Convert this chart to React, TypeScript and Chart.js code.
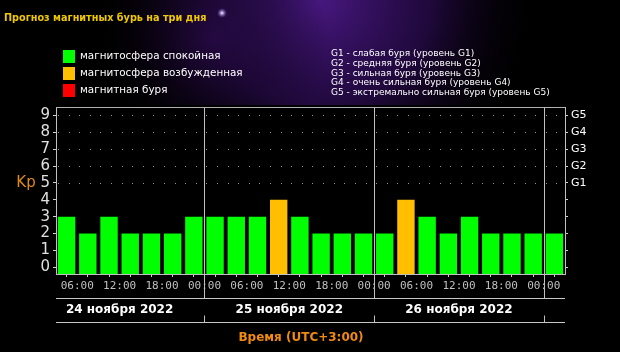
import React, { useEffect, useRef } from "react";
import { Chart, registerables } from "chart.js";

Chart.register(...registerables);

// ---- data ----
const titleText = "Прогноз магнитных бурь на три дня";
const intervalStartHours = [3, 6, 9, 12, 15, 18, 21, 24, 27, 30, 33, 36, 39, 42, 45, 48, 51, 54, 57, 60, 63, 66, 69, 72];
const kpValues = [3, 2, 3, 2, 2, 2, 3, 3, 3, 3, 4, 3, 2, 2, 2, 2, 4, 3, 2, 3, 2, 2, 2, 2];
const dayLabels = ["24 ноября 2022", "25 ноября 2022", "26 ноября 2022"];
const dayStartHours = [0, 24, 48];
const daySeparatorHours = [24, 48, 72];
const kpTicks = [0, 1, 2, 3, 4, 5, 6, 7, 8, 9];
const gLevelTicks = ["", "", "", "", "", "G1", "G2", "G3", "G4", "G5"];
const legendItems = ["магнитосфера спокойная", "магнитосфера возбужденная", "магнитная буря"];
const legendColors = ["#00ff00", "#ffbf00", "#ff0000"];
const gLegendLines = [
  "G1 - слабая буря (уровень G1)",
  "G2 - средняя буря (уровень G2)",
  "G3 - сильная буря (уровень G3)",
  "G4 - очень сильная буря (уровень G4)",
  "G5 - экстремально сильная буря (уровень G5)",
];
const xAxisTitle = "Время (UTC+3:00)";
const yAxisTitle = "Kp";

const X_MIN = 3;
const X_MAX = 75;
const Y_MIN = -0.4;
const Y_MAX = 9.5;

function kpColor(v: number) {
  if (v >= 5) return legendColors[2];
  if (v >= 4) return legendColors[1];
  return legendColors[0];
}

const FONT = "'DejaVu Sans', Verdana, sans-serif";

const decorPlugin = {
  id: "decor",
  beforeDraw(chart: any) {
    const { ctx, width, height } = chart;
    ctx.save();
    ctx.fillStyle = "#000";
    ctx.fillRect(0, 0, width, height);
    // purple nebula on top
    const g1 = ctx.createRadialGradient(320, 0, 0, 320, 0, 220);
    g1.addColorStop(0, "rgba(75,25,135,0.95)");
    g1.addColorStop(0.5, "rgba(45,12,85,0.7)");
    g1.addColorStop(1, "rgba(0,0,0,0)");
    ctx.fillStyle = g1;
    ctx.fillRect(0, 0, width, 105);
    const g2 = ctx.createRadialGradient(210, 40, 0, 210, 40, 120);
    g2.addColorStop(0, "rgba(40,10,70,0.6)");
    g2.addColorStop(1, "rgba(0,0,0,0)");
    ctx.fillStyle = g2;
    ctx.fillRect(0, 0, width, 105);
    // star
    const sg = ctx.createRadialGradient(222, 13, 0, 222, 13, 5);
    sg.addColorStop(0, "rgba(255,255,255,1)");
    sg.addColorStop(0.4, "rgba(200,180,255,0.6)");
    sg.addColorStop(1, "rgba(120,80,200,0)");
    ctx.fillStyle = sg;
    ctx.fillRect(215, 6, 14, 14);
    ctx.fillStyle = "#000";
    ctx.fillRect(chart.chartArea.left, chart.chartArea.top, chart.chartArea.right - chart.chartArea.left, chart.chartArea.bottom - chart.chartArea.top);

    // dotted grid at 5..9
    const xs = chart.scales.x;
    const ys = chart.scales.y;
    ctx.fillStyle = "rgba(200,200,200,0.75)";
    const step = (xs.getPixelForValue(X_MIN + 3) - xs.getPixelForValue(X_MIN)) / 2;
    for (let v = 5; v <= 9; v++) {
      const py = Math.round(ys.getPixelForValue(v));
      for (let px = chart.chartArea.left + 2; px < chart.chartArea.right - 1; px += step) {
        ctx.fillRect(Math.round(px), py, 1, 1);
      }
    }
    ctx.restore();
  },
  afterDraw(chart: any) {
    const { ctx, chartArea } = chart;
    const xs = chart.scales.x;
    const ys = chart.scales.y;
    ctx.save();
    // top border of plot
    ctx.strokeStyle = "#b0b0b0";
    ctx.lineWidth = 1;
    ctx.beginPath();
    ctx.moveTo(chartArea.left, chartArea.top + 0.5);
    ctx.lineTo(chartArea.right, chartArea.top + 0.5);
    ctx.stroke();

    const row1 = 298.5;
    const row2 = 322.5;
    // day separators
    ctx.strokeStyle = "#c0c0c0";
    daySeparatorHours.forEach((h) => {
      const px = Math.round(xs.getPixelForValue(h)) + 0.5;
      ctx.beginPath();
      ctx.moveTo(px, chartArea.top);
      ctx.lineTo(px, row1);
      ctx.moveTo(px, row2 - 7);
      ctx.lineTo(px, row2);
      ctx.stroke();
    });
    // horizontal lines of date band
    ctx.strokeStyle = "#c8c8c8";
    ctx.beginPath();
    ctx.moveTo(chartArea.left, row1);
    ctx.lineTo(chartArea.right, row1);
    ctx.moveTo(chartArea.left, row2);
    ctx.lineTo(chartArea.right, row2);
    ctx.stroke();

    // date labels
    ctx.fillStyle = "#ffffff";
    ctx.font = `bold 12px ${FONT}`;
    ctx.textAlign = "center";
    ctx.textBaseline = "middle";
    dayLabels.forEach((lab, i) => {
      ctx.fillText(lab, xs.getPixelForValue(dayStartHours[i] + 12), 310);
    });

    // x axis title
    ctx.fillStyle = "#f08a10";
    ctx.font = `bold 12px ${FONT}`;
    ctx.fillText(xAxisTitle, 301, 338);

    // Kp
    ctx.fillStyle = "#e08a10";
    ctx.font = `15px ${FONT}`;
    ctx.fillText(yAxisTitle, 26, ys.getPixelForValue(5));

    // title
    ctx.textAlign = "left";
    ctx.fillStyle = "#f0c800";
    ctx.font = `bold 9.7px ${FONT}`;
    ctx.fillText(titleText, 4, 18);

    // legend
    ctx.font = `10.4px ${FONT}`;
    legendItems.forEach((t, i) => {
      const cy = 56 + i * 17;
      ctx.fillStyle = legendColors[i];
      ctx.fillRect(63, cy - 6, 12, 13);
      ctx.fillStyle = "#ffffff";
      ctx.fillText(t, 80, cy);
    });

    // G legend
    ctx.font = `9px ${FONT}`;
    gLegendLines.forEach((t, i) => {
      ctx.fillStyle = "#ffffff";
      ctx.fillText(t, 331, 54 + i * 9.7);
    });
    ctx.restore();
  },
};

export default function App() {
  const ref = useRef<HTMLCanvasElement | null>(null);
  useEffect(() => {
    document.body.style.margin = "0";
    document.body.style.background = "#000";
    const canvas = ref.current!;
    const chart = new Chart(canvas, {
      type: "bar",
      data: {
        datasets: [
          {
            data: intervalStartHours.map((h, i) => ({ x: h + 1.5, y: kpValues[i] })),
            backgroundColor: kpValues.map(kpColor),
            base: Y_MIN,
            barPercentage: 0.82,
            categoryPercentage: 1,
            borderWidth: 0,
          } as any,
        ],
      },
      options: {
        responsive: false,
        animation: false,
        devicePixelRatio: 1,
        layout: { padding: { top: 107, left: 0, right: 0, bottom: 0 } },
        plugins: { legend: { display: false }, tooltip: { enabled: false }, title: { display: false } },
        scales: {
          x: {
            type: "linear",
            position: "bottom",
            min: X_MIN,
            max: X_MAX,
            offset: false,
            afterBuildTicks: (s: any) => {
              s.ticks = intervalStartHours.concat([X_MAX]).map((v) => ({ value: v }));
            },
            afterFit: (s: any) => {
              s.height = 78;
            },
            ticks: {
              autoSkip: false,
              maxRotation: 0,
              color: "#c0c0c0",
              font: { family: "'DejaVu Sans Mono', monospace", size: 11 },
              padding: 3,
              callback: (v: any) => {
                const h = Number(v);
                if (h % 6 !== 0) return "";
                const hh = h % 24;
                return (hh < 10 ? "0" : "") + hh + ":00";
              },
            },
            grid: { drawOnChartArea: false, drawTicks: true, tickLength: 3, color: "#d0d0d0" },
            border: { color: "#c0c0c0", width: 1 },
          },
          y: {
            type: "linear",
            position: "left",
            min: Y_MIN,
            max: Y_MAX,
            afterBuildTicks: (s: any) => {
              s.ticks = kpTicks.map((v) => ({ value: v }));
            },
            afterFit: (s: any) => {
              s.width = 56;
            },
            ticks: {
              autoSkip: false,
              color: "#e0e0e0",
              font: { family: FONT, size: 15 },
              padding: 3,
            },
            grid: { drawOnChartArea: false, drawTicks: true, tickLength: 3, color: "#d0d0d0" },
            border: { color: "#c0c0c0", width: 1 },
          },
          y2: {
            type: "linear",
            position: "right",
            min: Y_MIN,
            max: Y_MAX,
            afterBuildTicks: (s: any) => {
              s.ticks = kpTicks.map((v) => ({ value: v }));
            },
            afterFit: (s: any) => {
              s.width = 55;
            },
            ticks: {
              autoSkip: false,
              color: "#ffffff",
              font: { family: FONT, size: 11 },
              padding: 3,
              callback: (v: any) => gLevelTicks[kpTicks.indexOf(Number(v))] ?? "",
            },
            grid: { drawOnChartArea: false, drawTicks: true, tickLength: 3, color: "#d0d0d0" },
            border: { color: "#c0c0c0", width: 1 },
          },
        },
      } as any,
      plugins: [decorPlugin],
    });
    return () => chart.destroy();
  }, []);
  return <canvas ref={ref} width={620} height={352} style={{ display: "block", width: 620, height: 352 }} />;
}
